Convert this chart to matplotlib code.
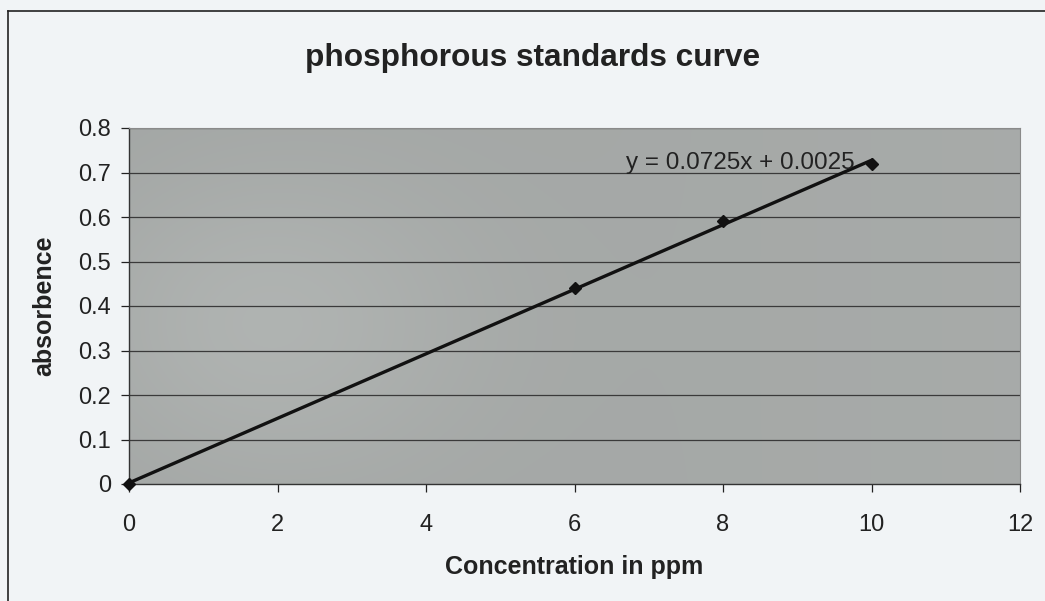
import numpy as np
import matplotlib
matplotlib.use("Agg")
import matplotlib.pyplot as plt
from matplotlib.lines import Line2D

# Standards data
concentration = [0, 6, 8, 10]
absorbance = [0.0, 0.44, 0.59, 0.72]
x_ticks = [0, 2, 4, 6, 8, 10, 12]
y_ticks = [0, 0.1, 0.2, 0.3, 0.4, 0.5, 0.6, 0.7, 0.8]

plt.rcParams['font.family'] = ['Liberation Sans', 'DejaVu Sans']

fig = plt.figure(figsize=(10.45, 6.01), dpi=100)
fig.patch.set_facecolor('#f1f4f6')

ax = fig.add_axes([129 / 1045, 117 / 601, 891 / 1045, 356 / 601])

# gray plot area with soft shading
ny, nx = 200, 400
yy, xx = np.mgrid[0:1:ny * 1j, 0:1:nx * 1j]
shade = 0.65 + 0.05 * np.exp(-((xx - 0.15) ** 2 / 0.05 + (yy - 0.45) ** 2 / 0.2)) \
    + 0.02 * xx
rgb = np.dstack([shade * 0.98, shade * 1.0, shade * 0.99])
ax.imshow(np.clip(rgb, 0, 1), extent=[0, 12, 0, 0.8], aspect='auto',
          origin='lower', zorder=0, interpolation='bilinear')

ax.set_xlim(0, 12)
ax.set_ylim(0, 0.8)
ax.set_xticks(x_ticks)
ax.set_yticks(y_ticks)
ax.set_xticklabels([str(v) for v in x_ticks])
ax.set_yticklabels(['0'] + [f'{v:.1f}' for v in y_ticks[1:]])
ax.tick_params(axis='both', labelsize=17, colors='#222222', length=6,
               width=0.9, direction='out')
ax.tick_params(axis='x', pad=15.5)
ax.tick_params(axis='y', pad=7)

for v in y_ticks[1:]:
    ax.axhline(v, color='#3a3a3a', linewidth=0.9, zorder=1)

for side in ['top', 'right']:
    ax.spines[side].set_color('#8a8a8a')
    ax.spines[side].set_linewidth(0.8)
for side in ['left', 'bottom']:
    ax.spines[side].set_color('#333333')
    ax.spines[side].set_linewidth(1.0)

# linear trendline from least squares
slope, intercept = np.polyfit(concentration, absorbance, 1)
xs = np.array([concentration[0], concentration[-1]])
ax.plot(xs, slope * xs + intercept, color='#111111', linewidth=2.4, zorder=3)
ax.plot(concentration, absorbance, linestyle='none', marker='D',
        markersize=6, color='#111111', zorder=4, clip_on=False)

ax.text(6.69, 0.722, f'y = {slope:.4f}x + {intercept:.4f}', fontsize=17.5,
        color='#222222', va='center', ha='left', zorder=5)

ax.set_xlabel('Concentration in ppm', fontsize=18, fontweight='bold',
              color='#222222', labelpad=14)
ax.set_ylabel('absorbence', fontsize=18, fontweight='bold',
              color='#222222', labelpad=15.5)

fig.text(533 / 1045, 1 - 58 / 601, 'phosphorous standards curve', fontsize=22.8,
         fontweight='bold', color='#222222', ha='center', va='center')

# chart frame
fig.add_artist(Line2D([8 / 1045, 8 / 1045], [0, 1 - 11 / 601],
                      transform=fig.transFigure, color='#222222', linewidth=1.2))
fig.add_artist(Line2D([8 / 1045, 1], [1 - 11 / 601, 1 - 11 / 601],
                      transform=fig.transFigure, color='#222222', linewidth=1.2))

fig.savefig('out.png', dpi=100, facecolor=fig.get_facecolor())
